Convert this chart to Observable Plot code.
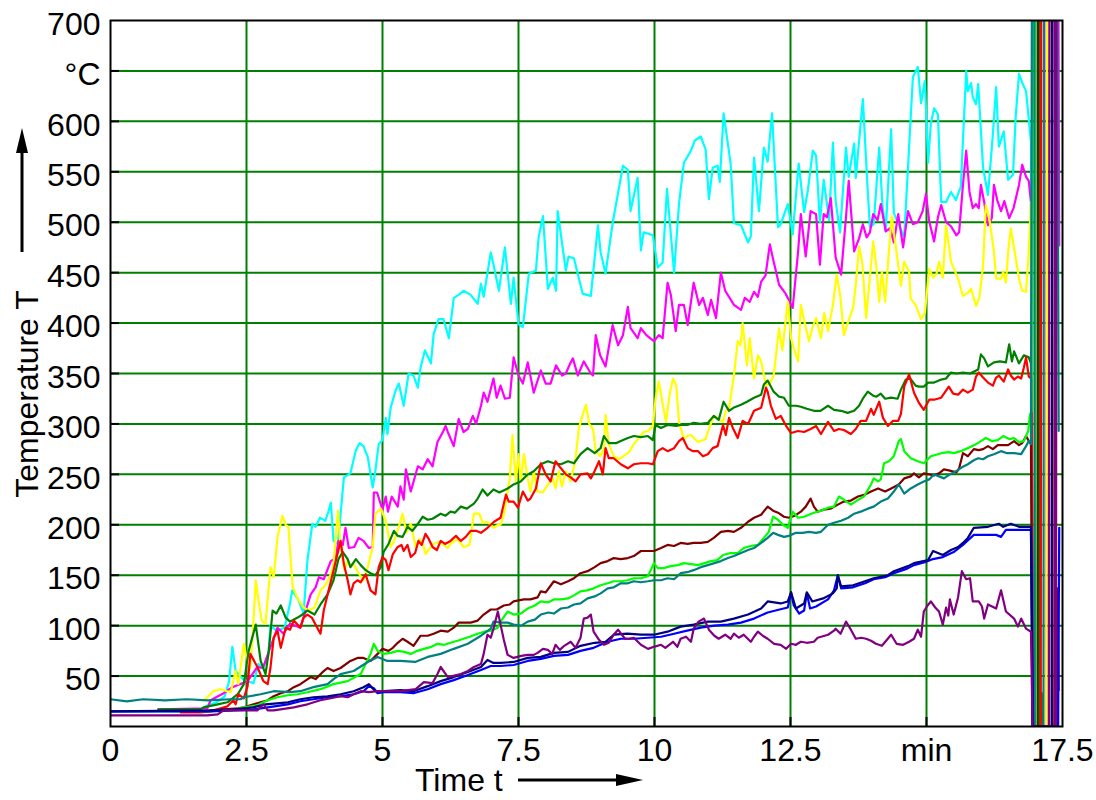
<!DOCTYPE html>
<html>
<head>
<meta charset="utf-8">
<script src="https://cdn.jsdelivr.net/npm/d3@7"></script>
<script src="https://cdn.jsdelivr.net/npm/@observablehq/plot@0.6"></script>
<style>
  html, body { margin: 0; padding: 0; background: #fff; }
  #chart { width: 1096px; height: 800px; }
</style>
</head>
<body>
<div id="chart"></div>
<script>
// ---- Axis ticks and labels ----
const xTicks = [0, 2.5, 5, 7.5, 10, 12.5, 15, 17.5];
const xTickLabels = ["0", "2.5", "5", "7.5", "10", "12.5", "min", "17.5"];
const xGrid = [2.5, 5, 7.5, 10, 12.5, 15];
const yTicks = [50, 100, 150, 200, 250, 300, 350, 400, 450, 500, 550, 600, 650, 700];
const yTickLabels = ["50", "100", "150", "200", "250", "300", "350", "400", "450", "500", "550", "600", "°C", "700"];
const yGrid = [50, 100, 150, 200, 250, 300, 350, 400, 450, 500, 550, 600, 650];
const xTitle = "Time t";
const yTitle = "Temperature T";

// ---- Series: [time in min, temperature in °C] ----
const cyan = [[0,15],[1.6,15],[1.75,20],[1.95,24],[2.1,30],[2.18,45],[2.24,79],[2.3,55],[2.45,46],[2.63,43],[2.72,62],[2.8,58],[2.9,70],[2.94,100],[3.05,95],[3.2,98],[3.3,122],[3.34,135],[3.45,126],[3.55,112],[3.62,165],[3.71,201],[3.77,198],[3.85,207],[3.95,204],[4.0,212],[4.05,222],[4.1,184],[4.18,181],[4.29,247],[4.41,251],[4.51,274],[4.58,281],[4.65,278],[4.73,267],[4.82,237],[4.87,254],[4.93,280],[5.0,284],[5.06,306],[5.09,290],[5.15,316],[5.24,333],[5.3,340],[5.39,318],[5.48,350],[5.57,348],[5.65,336],[5.7,356],[5.78,373],[5.89,360],[5.94,389],[6.03,404],[6.12,404],[6.22,385],[6.31,425],[6.4,428],[6.49,432],[6.62,428],[6.75,419],[6.81,439],[6.86,426],[6.99,470],[7.04,458],[7.14,432],[7.25,475],[7.36,419],[7.41,445],[7.5,399],[7.58,396],[7.69,449],[7.82,452],[7.87,485],[7.95,506],[8.04,434],[8.13,445],[8.19,432],[8.22,511],[8.37,452],[8.42,466],[8.52,464],[8.68,429],[8.83,427],[8.96,497],[9.01,470],[9.1,449],[9.23,499],[9.42,556],[9.51,552],[9.56,511],[9.69,544],[9.75,472],[9.8,490],[9.97,487],[10.06,455],[10.15,460],[10.23,533],[10.36,450],[10.45,518],[10.54,559],[10.67,571],[10.74,581],[10.85,585],[10.94,572],[11.0,523],[11.07,554],[11.16,556],[11.2,540],[11.27,608],[11.4,558],[11.46,499],[11.59,497],[11.72,480],[11.77,486],[11.83,564],[11.92,511],[12.01,574],[12.08,560],[12.16,608],[12.27,495],[12.32,498],[12.45,518],[12.54,488],[12.65,558],[12.75,510],[12.82,532],[12.91,571],[12.97,566],[13.04,500],[13.11,542],[13.21,502],[13.28,579],[13.33,521],[13.41,490],[13.52,574],[13.57,545],[13.67,578],[13.7,544],[13.83,622],[13.92,531],[13.96,495],[14.03,498],[14.13,574],[14.19,517],[14.25,491],[14.35,592],[14.4,509],[14.59,485],[14.75,644],[14.84,654],[14.9,618],[14.97,640],[15.03,559],[15.08,598],[15.14,613],[15.21,607],[15.27,520],[15.36,520],[15.45,530],[15.54,522],[15.63,535],[15.73,650],[15.76,630],[15.82,638],[15.85,624],[15.91,617],[15.95,637],[16.04,554],[16.13,527],[16.22,587],[16.28,634],[16.33,575],[16.42,590],[16.5,542],[16.59,547],[16.64,605],[16.7,647],[16.77,637],[16.83,630],[16.92,580],[16.95,0],[17.0,0],[17.01,800]];

const magenta = [[0.88,17],[1.78,18],[1.84,26],[2.08,33],[2.24,39],[2.52,45],[2.7,59],[2.8,58],[3.07,98],[3.18,92],[3.3,102],[3.49,98],[3.68,131],[3.77,138],[3.83,148],[3.92,146],[4.05,164],[4.14,167],[4.19,184],[4.27,180],[4.32,197],[4.38,177],[4.48,178],[4.56,187],[4.65,184],[4.75,177],[4.82,178],[4.84,232],[4.9,232],[5.0,215],[5.06,228],[5.1,213],[5.17,228],[5.28,218],[5.33,238],[5.39,225],[5.43,255],[5.52,233],[5.65,258],[5.74,255],[5.83,265],[5.92,258],[6.01,282],[6.11,292],[6.16,298],[6.2,292],[6.31,278],[6.4,305],[6.49,292],[6.57,295],[6.66,308],[6.72,300],[6.81,318],[6.86,331],[6.93,322],[7.04,345],[7.1,326],[7.17,338],[7.25,325],[7.34,326],[7.41,366],[7.5,348],[7.58,340],[7.67,361],[7.78,331],[7.91,353],[8.0,340],[8.09,340],[8.19,358],[8.3,348],[8.37,350],[8.45,360],[8.5,365],[8.59,348],[8.7,362],[8.83,350],[8.87,348],[8.92,388],[9.0,368],[9.1,357],[9.23,398],[9.33,378],[9.42,388],[9.51,416],[9.56,395],[9.69,385],[9.75,395],[9.85,388],[9.99,382],[10.08,388],[10.15,385],[10.24,440],[10.3,428],[10.39,392],[10.45,418],[10.54,418],[10.61,398],[10.72,440],[10.82,418],[10.89,425],[10.98,408],[11.04,423],[11.13,405],[11.22,450],[11.3,432],[11.46,418],[11.59,413],[11.66,425],[11.75,421],[11.83,431],[11.9,426],[11.96,441],[12.04,447],[12.12,478],[12.19,461],[12.29,438],[12.4,430],[12.45,425],[12.54,415],[12.64,471],[12.69,508],[12.78,466],[12.87,511],[12.97,508],[13.04,458],[13.11,508],[13.17,505],[13.24,524],[13.33,465],[13.43,448],[13.52,505],[13.57,541],[13.67,471],[13.76,484],[13.83,498],[13.9,485],[13.96,490],[14.02,508],[14.1,502],[14.16,518],[14.25,491],[14.33,494],[14.4,480],[14.48,508],[14.57,475],[14.66,511],[14.75,498],[14.84,500],[14.93,511],[14.99,528],[15.05,501],[15.14,481],[15.21,505],[15.27,517],[15.36,500],[15.45,496],[15.55,487],[15.6,490],[15.67,537],[15.73,571],[15.79,530],[15.85,514],[15.91,518],[15.96,514],[16.0,537],[16.06,520],[16.13,497],[16.2,504],[16.24,537],[16.3,522],[16.37,511],[16.43,521],[16.52,504],[16.6,514],[16.7,537],[16.76,557],[16.83,545],[16.88,541],[16.92,520],[16.96,0],[17.2,0],[17.21,800],[17.42,800],[17.44,477]];

const yellow = [[1.71,26],[1.78,29],[1.89,35],[2.02,37],[2.21,34],[2.3,55],[2.35,42],[2.45,82],[2.52,62],[2.57,58],[2.61,88],[2.67,145],[2.72,125],[2.78,105],[2.85,102],[2.94,158],[3.0,148],[3.07,188],[3.16,209],[3.22,200],[3.27,198],[3.35,138],[3.4,132],[3.46,125],[3.55,118],[3.64,115],[3.75,118],[3.86,135],[3.95,140],[4.05,151],[4.1,161],[4.18,214],[4.23,178],[4.3,155],[4.36,165],[4.41,158],[4.47,161],[4.56,152],[4.65,145],[4.7,152],[4.82,178],[4.87,211],[4.97,216],[5.06,204],[5.15,178],[5.22,185],[5.3,198],[5.37,211],[5.44,192],[5.52,201],[5.61,178],[5.68,186],[5.74,182],[5.79,171],[5.87,177],[5.94,181],[6.05,183],[6.2,177],[6.25,181],[6.38,186],[6.49,178],[6.6,180],[6.68,211],[6.78,211],[6.84,202],[6.93,203],[7.04,197],[7.12,200],[7.17,200],[7.23,210],[7.3,233],[7.34,246],[7.39,289],[7.45,243],[7.5,270],[7.54,243],[7.6,270],[7.67,246],[7.72,233],[7.78,253],[7.85,233],[7.95,232],[8.04,240],[8.13,246],[8.18,236],[8.24,253],[8.3,238],[8.37,253],[8.46,243],[8.55,266],[8.61,296],[8.68,309],[8.74,319],[8.8,300],[8.87,295],[8.92,273],[9.0,268],[9.07,275],[9.1,309],[9.16,280],[9.25,268],[9.35,265],[9.53,272],[9.62,280],[9.8,292],[9.88,293],[9.97,298],[10.02,325],[10.08,342],[10.15,320],[10.21,302],[10.28,330],[10.34,345],[10.4,338],[10.45,302],[10.54,285],[10.6,288],[10.67,289],[10.8,282],[10.94,285],[11.0,295],[11.09,308],[11.17,305],[11.26,302],[11.31,313],[11.37,315],[11.46,348],[11.53,382],[11.58,378],[11.62,400],[11.7,358],[11.75,385],[11.83,345],[11.9,368],[11.96,362],[12.05,338],[12.12,340],[12.19,348],[12.29,395],[12.35,373],[12.45,421],[12.51,385],[12.56,375],[12.64,362],[12.69,418],[12.77,398],[12.84,382],[12.9,395],[12.97,405],[13.06,385],[13.12,410],[13.19,392],[13.28,418],[13.35,448],[13.42,425],[13.48,388],[13.55,400],[13.65,415],[13.7,438],[13.76,476],[13.82,460],[13.89,405],[13.95,440],[14.02,481],[14.08,455],[14.13,421],[14.18,451],[14.24,421],[14.3,465],[14.36,506],[14.43,478],[14.53,437],[14.59,461],[14.68,451],[14.71,424],[14.8,418],[14.9,404],[14.97,410],[15.05,454],[15.12,445],[15.18,448],[15.23,461],[15.3,445],[15.36,497],[15.45,461],[15.58,444],[15.67,427],[15.76,430],[15.82,434],[15.91,417],[15.97,425],[16.04,457],[16.09,517],[16.15,505],[16.24,471],[16.28,444],[16.37,444],[16.41,451],[16.46,440],[16.5,470],[16.55,494],[16.63,468],[16.7,444],[16.76,432],[16.83,431],[16.88,471],[16.92,520],[16.95,0],[17.2,0],[17.22,800],[17.3,800],[17.32,227]];

const green = [[0.88,17],[1.66,17],[1.71,19],[1.97,22],[2.15,24],[2.34,32],[2.45,42],[2.54,75],[2.67,101],[2.76,65],[2.85,52],[2.91,75],[2.98,115],[3.05,112],[3.13,120],[3.22,108],[3.3,104],[3.44,108],[3.53,111],[3.62,115],[3.75,111],[3.86,121],[3.99,131],[4.1,145],[4.19,166],[4.27,173],[4.36,166],[4.41,158],[4.51,166],[4.6,160],[4.69,155],[4.78,152],[4.87,150],[4.97,158],[5.02,173],[5.11,181],[5.21,194],[5.28,189],[5.37,188],[5.46,198],[5.55,194],[5.65,201],[5.74,208],[5.83,205],[5.92,206],[5.98,208],[6.07,211],[6.16,209],[6.25,213],[6.33,212],[6.44,218],[6.55,216],[6.68,221],[6.75,226],[6.84,235],[6.93,229],[7.04,235],[7.15,232],[7.3,236],[7.41,240],[7.54,243],[7.67,250],[7.78,253],[7.91,260],[8.04,263],[8.15,261],[8.28,260],[8.41,263],[8.52,261],[8.64,270],[8.77,276],[8.9,271],[9.01,276],[9.07,288],[9.16,281],[9.3,281],[9.38,283],[9.51,286],[9.62,288],[9.75,287],[9.88,288],[9.97,284],[10.02,299],[10.12,296],[10.24,299],[10.4,298],[10.48,299],[10.6,299],[10.72,301],[10.85,300],[10.98,301],[11.09,308],[11.18,304],[11.27,322],[11.37,313],[11.45,316],[11.59,319],[11.7,322],[11.83,326],[11.96,329],[12.01,339],[12.08,343],[12.19,332],[12.29,327],[12.38,326],[12.47,318],[12.6,318],[12.69,317],[12.8,315],[12.93,313],[13.05,313],[13.19,318],[13.3,314],[13.43,313],[13.55,311],[13.67,313],[13.76,318],[13.83,325],[13.92,332],[14.02,328],[14.08,327],[14.16,330],[14.24,325],[14.35,326],[14.47,325],[14.53,334],[14.62,344],[14.7,345],[14.8,338],[14.86,337],[14.95,337],[15.03,341],[15.14,341],[15.27,344],[15.36,345],[15.45,351],[15.55,350],[15.67,351],[15.8,350],[15.95,354],[16.0,369],[16.06,365],[16.13,357],[16.24,361],[16.35,362],[16.46,361],[16.52,379],[16.57,362],[16.61,372],[16.7,360],[16.79,368],[16.88,366],[16.92,360],[16.96,0],[17.05,0],[17.06,800],[17.08,800],[17.09,0],[17.12,33],[17.14,0]];

const red = [[1.29,14],[1.66,14],[1.84,15],[2.15,20],[2.26,26],[2.3,22],[2.35,32],[2.45,28],[2.52,40],[2.57,72],[2.7,59],[2.81,45],[2.89,42],[2.94,58],[3.0,88],[3.07,95],[3.13,78],[3.22,98],[3.3,96],[3.37,105],[3.49,98],[3.55,108],[3.62,111],[3.7,108],[3.77,101],[3.86,92],[3.92,115],[4.01,135],[4.1,155],[4.19,175],[4.23,184],[4.29,161],[4.36,145],[4.41,131],[4.47,142],[4.54,145],[4.6,143],[4.69,151],[4.78,135],[4.87,131],[4.93,158],[5.0,168],[5.06,165],[5.11,155],[5.19,171],[5.28,178],[5.35,180],[5.39,174],[5.46,180],[5.52,168],[5.6,172],[5.66,184],[5.72,180],[5.79,191],[5.85,186],[5.92,178],[6.0,175],[6.07,184],[6.15,181],[6.25,184],[6.35,189],[6.44,184],[6.53,188],[6.62,194],[6.72,194],[6.81,192],[6.93,197],[7.05,203],[7.17,207],[7.27,230],[7.32,223],[7.41,223],[7.49,217],[7.58,233],[7.67,224],[7.72,226],[7.82,236],[7.91,261],[8.0,250],[8.09,243],[8.18,263],[8.28,256],[8.37,250],[8.46,247],[8.55,243],[8.64,250],[8.77,251],[8.83,246],[8.88,251],[8.98,263],[9.05,250],[9.1,276],[9.16,266],[9.25,266],[9.38,260],[9.51,256],[9.62,260],[9.75,261],[9.88,261],[9.97,260],[10.06,273],[10.15,276],[10.24,273],[10.36,276],[10.45,283],[10.52,286],[10.61,276],[10.7,273],[10.8,273],[10.89,268],[10.98,270],[11.07,276],[11.16,278],[11.26,299],[11.31,289],[11.37,306],[11.44,296],[11.53,286],[11.62,303],[11.72,300],[11.83,313],[11.96,316],[12.05,336],[12.08,332],[12.14,318],[12.23,305],[12.32,308],[12.42,298],[12.51,291],[12.64,293],[12.75,292],[12.87,295],[12.97,298],[13.06,290],[13.19,302],[13.3,293],[13.39,295],[13.48,294],[13.61,290],[13.7,295],[13.79,303],[13.89,303],[13.98,315],[14.03,309],[14.13,322],[14.2,306],[14.29,298],[14.38,303],[14.48,303],[14.53,310],[14.59,337],[14.68,349],[14.77,331],[14.86,321],[14.95,314],[15.05,324],[15.14,324],[15.27,326],[15.41,337],[15.49,330],[15.58,329],[15.67,334],[15.76,331],[15.85,334],[15.91,347],[15.96,351],[16.04,346],[16.13,341],[16.22,338],[16.28,346],[16.33,348],[16.42,342],[16.5,354],[16.55,348],[16.61,344],[16.68,347],[16.74,345],[16.79,356],[16.83,366],[16.88,347],[16.93,345],[16.96,0],[17.1,0],[17.11,800]];

const maroon = [[1.66,15],[1.84,16],[2.08,17],[2.35,18],[2.45,19],[2.63,22],[2.89,26],[3.0,30],[3.13,33],[3.26,35],[3.37,39],[3.49,42],[3.68,49],[3.77,47],[3.92,55],[3.99,58],[4.1,55],[4.23,58],[4.41,65],[4.54,68],[4.65,68],[4.78,65],[4.91,72],[5.0,77],[5.11,75],[5.19,78],[5.28,83],[5.37,87],[5.46,84],[5.57,80],[5.7,90],[5.83,90],[5.94,92],[6.07,95],[6.2,94],[6.31,98],[6.4,103],[6.5,103],[6.62,103],[6.75,105],[6.86,111],[6.99,116],[7.1,116],[7.23,120],[7.34,121],[7.41,124],[7.5,125],[7.6,126],[7.72,126],[7.85,128],[7.91,134],[8.0,133],[8.15,144],[8.28,141],[8.41,144],[8.52,147],[8.64,152],[8.77,154],[8.9,158],[9.01,162],[9.14,164],[9.25,167],[9.38,166],[9.51,167],[9.62,169],[9.75,174],[9.88,174],[9.99,174],[10.12,177],[10.24,180],[10.36,179],[10.48,182],[10.61,181],[10.72,182],[10.85,182],[10.98,183],[11.09,187],[11.22,193],[11.35,194],[11.46,193],[11.59,197],[11.72,203],[11.83,207],[11.96,210],[12.08,218],[12.18,214],[12.27,212],[12.38,208],[12.47,207],[12.58,209],[12.69,213],[12.78,218],[12.87,226],[12.93,218],[13.0,213],[13.11,215],[13.24,216],[13.37,220],[13.48,223],[13.61,224],[13.74,228],[13.87,230],[13.98,233],[14.11,236],[14.24,233],[14.35,236],[14.49,240],[14.59,246],[14.71,248],[14.77,251],[14.86,247],[14.95,251],[15.05,250],[15.14,249],[15.23,251],[15.32,255],[15.41,254],[15.55,252],[15.6,256],[15.67,271],[15.76,268],[15.87,275],[15.96,274],[16.04,275],[16.13,278],[16.22,275],[16.31,279],[16.41,279],[16.5,279],[16.61,283],[16.7,279],[16.76,281],[16.83,288],[16.88,283],[16.92,280],[16.95,0],[17.04,0],[17.05,800],[17.3,800],[17.32,0],[17.4,0],[17.41,137],[17.43,36]];

const lime = [[1.66,15],[2.21,16],[2.45,19],[2.7,21],[2.89,26],[3.07,29],[3.26,31],[3.44,32],[3.62,34],[3.86,37],[4.1,42],[4.36,45],[4.6,52],[4.78,72],[4.84,82],[4.91,75],[5.02,72],[5.15,73],[5.28,75],[5.4,74],[5.52,72],[5.64,75],[5.76,77],[5.9,79],[6.01,82],[6.14,81],[6.25,83],[6.38,85],[6.49,87],[6.6,89],[6.75,92],[6.87,94],[6.99,95],[7.12,98],[7.17,104],[7.3,114],[7.41,111],[7.54,112],[7.67,117],[7.8,120],[7.91,124],[8.04,123],[8.15,126],[8.28,126],[8.41,127],[8.52,130],[8.64,134],[8.76,135],[8.88,137],[9.01,140],[9.14,142],[9.25,144],[9.38,144],[9.51,145],[9.62,147],[9.75,147],[9.88,149],[9.93,155],[9.99,162],[10.06,157],[10.17,157],[10.3,159],[10.43,160],[10.54,162],[10.67,161],[10.8,160],[10.92,162],[11.04,164],[11.15,165],[11.26,170],[11.4,172],[11.53,172],[11.64,177],[11.77,179],[11.9,180],[12.01,187],[12.1,193],[12.18,208],[12.27,205],[12.36,200],[12.45,197],[12.54,213],[12.64,207],[12.75,208],[12.84,210],[12.93,212],[13.06,214],[13.19,217],[13.3,218],[13.39,228],[13.48,225],[13.61,220],[13.72,224],[13.85,228],[13.98,240],[14.03,246],[14.11,243],[14.16,245],[14.22,261],[14.31,263],[14.4,268],[14.49,283],[14.53,285],[14.59,273],[14.71,266],[14.84,263],[14.95,261],[15.08,268],[15.21,270],[15.27,271],[15.41,272],[15.5,271],[15.63,273],[15.76,276],[15.88,279],[16.0,283],[16.09,286],[16.2,283],[16.31,284],[16.41,288],[16.52,285],[16.61,286],[16.7,282],[16.79,283],[16.87,293],[16.9,309],[16.93,312],[16.95,800],[17.0,800],[17.01,0],[17.03,0]];

const teal = [[0,27],[0.3,25],[0.6,27],[1.0,26],[1.4,27],[1.8,26],[2.2,27],[2.39,27],[2.45,29],[2.76,32],[3.0,35],[3.3,34],[3.49,35],[3.73,39],[3.99,42],[4.1,47],[4.23,52],[4.47,55],[4.73,64],[4.91,69],[5.09,65],[5.33,65],[5.6,64],[5.83,69],[6.07,72],[6.31,77],[6.57,82],[6.81,90],[6.99,97],[7.04,104],[7.2,103],[7.3,103],[7.41,101],[7.55,100],[7.67,104],[7.8,106],[7.91,111],[8.05,113],[8.15,112],[8.28,117],[8.41,118],[8.52,121],[8.64,122],[8.77,127],[8.9,129],[9.01,132],[9.14,137],[9.25,138],[9.38,142],[9.51,142],[9.62,144],[9.75,143],[9.88,144],[9.99,145],[10.12,145],[10.24,147],[10.36,146],[10.48,152],[10.6,153],[10.72,155],[10.85,158],[10.98,160],[11.1,162],[11.22,164],[11.35,167],[11.46,169],[11.59,172],[11.72,175],[11.83,177],[11.96,182],[12.08,187],[12.18,192],[12.27,190],[12.38,188],[12.47,189],[12.6,192],[12.72,192],[12.84,193],[12.97,192],[13.06,193],[13.19,200],[13.3,202],[13.43,204],[13.56,207],[13.67,211],[13.79,213],[13.92,216],[14.03,218],[14.16,223],[14.29,226],[14.4,233],[14.49,240],[14.59,231],[14.71,236],[14.84,240],[14.95,243],[15.05,245],[15.14,250],[15.23,248],[15.32,246],[15.43,250],[15.54,253],[15.65,257],[15.76,260],[15.87,264],[15.95,266],[16.04,265],[16.13,268],[16.24,270],[16.37,273],[16.48,271],[16.61,271],[16.74,270],[16.83,278],[16.88,283],[16.92,280],[16.94,800],[16.98,800],[16.99,0],[17.15,0],[17.16,800],[17.4,800],[17.43,293]];

const blue = [[0,15],[1.84,15],[2.26,16],[2.63,17],[2.89,19],[3.26,22],[3.49,25],[3.73,27],[3.99,29],[4.23,30],[4.47,32],[4.65,35],[4.75,40],[4.84,38],[4.91,33],[5.02,34],[5.33,34],[5.57,33],[5.83,37],[6.07,42],[6.31,46],[6.57,51],[6.81,56],[6.99,60],[7.17,60],[7.41,61],[7.67,65],[7.91,67],[8.15,70],[8.41,71],[8.64,75],[8.88,78],[9.14,84],[9.38,87],[9.62,87],[9.88,88],[10.12,89],[10.36,92],[10.6,95],[10.85,98],[11.1,100],[11.35,101],[11.59,103],[11.83,107],[12.08,113],[12.3,116],[12.45,118],[12.51,133],[12.56,120],[12.66,112],[12.75,115],[12.8,132],[12.86,117],[12.97,119],[13.19,126],[13.3,135],[13.37,150],[13.43,137],[13.65,138],[13.87,142],[14.03,146],[14.24,148],[14.4,152],[14.62,156],[14.77,160],[14.97,163],[15.12,166],[15.3,168],[15.5,173],[15.67,180],[15.87,190],[16.1,190],[16.28,190],[16.37,188],[16.46,195],[16.7,195],[16.92,195],[16.96,0],[17.42,0],[17.44,197]];

const navy = [[0,15],[1.84,16],[2.26,17],[2.63,19],[2.85,22],[3.26,24],[3.49,27],[3.73,29],[3.99,30],[4.23,32],[4.47,35],[4.65,39],[4.75,42],[4.87,35],[5.02,35],[5.33,36],[5.57,35],[5.83,40],[6.07,45],[6.31,49],[6.57,54],[6.81,59],[6.93,66],[7.04,63],[7.17,63],[7.41,64],[7.67,68],[7.91,69],[8.15,73],[8.41,74],[8.64,80],[8.9,83],[9.1,84],[9.25,91],[9.5,92],[9.75,91],[9.99,91],[10.24,94],[10.48,99],[10.72,101],[10.98,104],[11.22,104],[11.46,107],[11.72,111],[11.96,117],[12.08,124],[12.32,122],[12.45,124],[12.51,133],[12.6,117],[12.75,122],[12.8,133],[12.9,124],[13.1,127],[13.28,132],[13.35,137],[13.37,150],[13.43,139],[13.65,140],[13.87,144],[14.03,147],[14.29,150],[14.4,154],[14.66,159],[14.77,162],[15.03,165],[15.12,174],[15.3,170],[15.45,175],[15.58,178],[15.67,182],[15.76,187],[15.87,197],[16.13,198],[16.33,201],[16.41,198],[16.55,201],[16.7,198],[16.79,198],[16.92,198],[16.95,0],[17.3,0],[17.31,800]];

const purple = [[0,11],[1.78,11],[1.97,12],[2.08,16],[2.7,16],[2.81,22],[2.89,16],[3.0,16],[3.37,19],[3.62,22],[3.86,26],[4.05,28],[4.23,30],[4.36,29],[4.47,32],[4.6,35],[4.75,34],[4.91,35],[5.33,35],[5.61,37],[5.76,44],[5.92,43],[6.01,52],[6.07,59],[6.2,49],[6.44,52],[6.57,55],[6.68,59],[6.81,62],[6.86,72],[6.93,91],[6.99,88],[7.04,97],[7.12,114],[7.17,101],[7.23,86],[7.3,71],[7.41,68],[7.55,70],[7.67,71],[7.78,71],[7.85,73],[7.95,77],[8.04,76],[8.12,72],[8.18,81],[8.26,76],[8.34,80],[8.46,84],[8.55,78],[8.64,88],[8.7,107],[8.77,108],[8.83,111],[8.88,94],[8.98,86],[9.07,81],[9.16,83],[9.25,91],[9.33,96],[9.4,91],[9.46,87],[9.53,87],[9.62,88],[9.75,81],[9.88,77],[9.99,79],[10.12,81],[10.2,78],[10.34,84],[10.42,79],[10.48,87],[10.58,89],[10.67,84],[10.72,97],[10.81,104],[10.91,107],[11.0,96],[11.1,90],[11.18,87],[11.3,91],[11.4,87],[11.46,92],[11.55,88],[11.64,91],[11.77,84],[11.83,89],[11.9,94],[11.99,90],[12.08,87],[12.2,82],[12.32,81],[12.42,77],[12.51,82],[12.6,81],[12.69,84],[12.8,83],[12.93,84],[13.0,88],[13.19,91],[13.3,95],[13.33,97],[13.42,92],[13.52,104],[13.61,96],[13.7,87],[13.8,88],[13.89,87],[13.98,85],[14.07,82],[14.18,80],[14.35,91],[14.45,82],[14.57,81],[14.68,84],[14.77,87],[14.84,96],[14.9,89],[14.95,114],[15.02,120],[15.08,124],[15.16,118],[15.23,114],[15.3,101],[15.36,118],[15.4,110],[15.43,126],[15.5,111],[15.58,128],[15.65,154],[15.73,146],[15.8,147],[15.85,124],[15.96,124],[16.02,119],[16.06,107],[16.13,121],[16.28,117],[16.37,135],[16.46,114],[16.61,107],[16.68,99],[16.74,107],[16.83,97],[16.92,94],[16.95,0],[17.25,0],[17.26,800],[17.35,800],[17.36,0],[17.38,0],[17.39,800]];

const seriesList = [cyan, magenta, yellow, green, red, maroon, lime, teal, blue, navy, purple];
const seriesColors = ["#00ffff", "#ff00ff", "#ffff00", "#008000", "#ff0000", "#800000", "#00ff00", "#008080", "#0000ff", "#000080", "#800080"];

const gridColor = "#008000";
const FONT = "'Liberation Sans', Arial, Helvetica, sans-serif";
const FS = 32;
const yLabelMap = new Map(yTicks.map((v, i) => [v, yTickLabels[i]]));
const xLabelMap = new Map(xTicks.map((v, i) => [v, xTickLabels[i]]));

const W = 1096, H = 800;
const mL = 110, mR = 34, mT = 20, mB = 74;

const lineMarks = seriesList.map((s, i) =>
  Plot.line(s, {x: d => d[0], y: d => d[1], stroke: seriesColors[i], strokeWidth: 2.2, clip: true, strokeLinejoin: "round"})
);

const chart = Plot.plot({
  width: W,
  height: H,
  marginLeft: mL,
  marginRight: mR,
  marginTop: mT,
  marginBottom: mB,
  style: {fontFamily: FONT, fontSize: FS + "px", background: "#ffffff", color: "#000"},
  x: {domain: [0, 17.5]},
  y: {domain: [0, 700]},
  marks: [
    Plot.ruleY(yGrid, {stroke: gridColor, strokeWidth: 2}),
    Plot.ruleX(xGrid, {stroke: gridColor, strokeWidth: 2}),
    ...lineMarks,
    // inward tick marks
    Plot.axisY({ticks: yGrid, tickSize: 9, dx: 9, tickFormat: () => "", label: null, strokeWidth: 2}),
    Plot.axisX({ticks: xGrid, tickSize: 9, dy: -9, tickFormat: () => "", label: null, strokeWidth: 2}),
    // tick labels
    Plot.axisY({ticks: yTicks, tickSize: 0, tickPadding: 10, tickFormat: d => yLabelMap.get(d), label: null, fontSize: FS, dy: 4}),
    Plot.axisX({ticks: xTicks, tickSize: 0, tickPadding: 12, tickFormat: d => xLabelMap.get(d), label: null, fontSize: FS}),
    Plot.frame({stroke: "#000", strokeWidth: 2})
  ]
});

document.getElementById("chart").appendChild(chart);

// Axis titles with arrows
const svg = d3.select(chart);
const deco = svg.append("g").attr("font-family", FONT).attr("font-size", FS).attr("fill", "#000");

// Y title (rotated) and up-arrow
deco.append("text")
  .attr("transform", "translate(38,394) rotate(-90)")
  .attr("text-anchor", "middle")
  .text(yTitle);
deco.append("line").attr("x1", 22).attr("y1", 252).attr("x2", 22).attr("y2", 148)
  .attr("stroke", "#000").attr("stroke-width", 3);
deco.append("path").attr("d", "M22,128 L16,153 L28,153 Z").attr("fill", "#000");

// X title and right-arrow
deco.append("text").attr("x", 415).attr("y", 791).attr("text-anchor", "start").text(xTitle);
deco.append("line").attr("x1", 518).attr("y1", 780).attr("x2", 620).attr("y2", 780)
  .attr("stroke", "#000").attr("stroke-width", 3);
deco.append("path").attr("d", "M643,780 L616,774 L616,786 Z").attr("fill", "#000");
</script>
</body>
</html>
